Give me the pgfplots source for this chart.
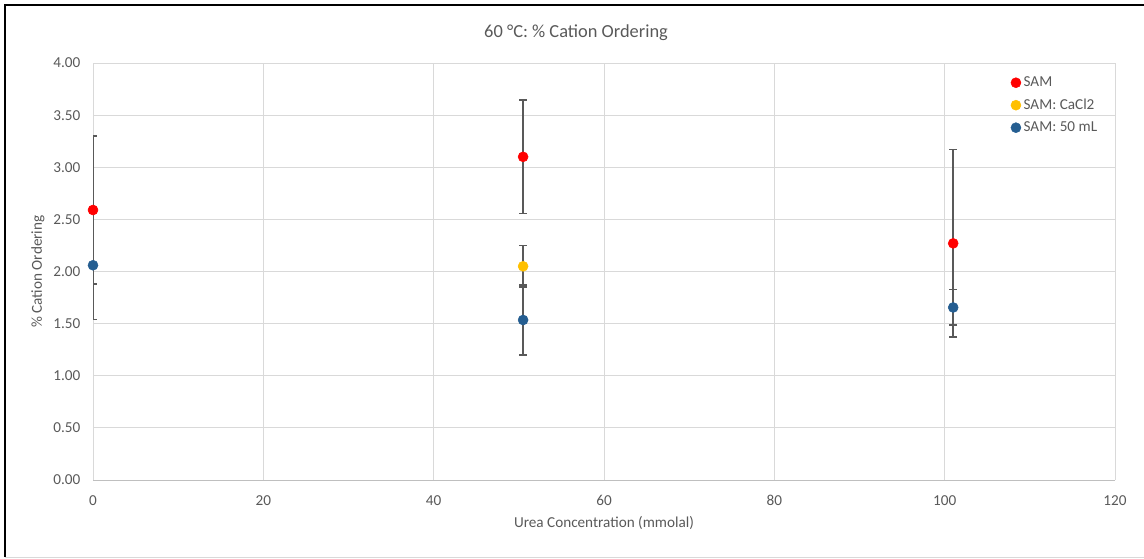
\documentclass[border=0pt]{standalone}
\usepackage{pgfplots}
\pgfplotsset{compat=1.18}
\usepackage{fontspec}
\setmainfont{Carlito}

\definecolor{txtgray}{HTML}{595959}
\definecolor{gridgray}{HTML}{D9D9D9}
\definecolor{axisgray}{HTML}{BFBFBF}
\definecolor{errgray}{HTML}{595959}
\definecolor{samred}{HTML}{FF0000}
\definecolor{samgold}{HTML}{FFC000}
\definecolor{samblue}{HTML}{255E91}

\begin{document}
\begin{tikzpicture}
% canvas and outer frame
\path[use as bounding box] (0,0) rectangle (858pt,418.5pt);
\draw[black, line width=1.5pt] (3.75pt,0.75pt) -- (3.75pt,414.75pt) -- (858pt,414.75pt);
\draw[gridgray, line width=0.75pt] (3.75pt,0.6pt) -- (858pt,0.6pt);

\node[text=txtgray, font=\fontsize{13.8}{16}\selectfont] at (432pt,394pt)
  {60 °C: \% Cation Ordering};

\begin{axis}[
  at={(69.75pt,58.5pt)}, anchor=south west,
  scale only axis, width=766.5pt, height=312.75pt,
  xmin=0, xmax=120, ymin=0, ymax=4,
  xtick={0,20,40,60,80,100,120},
  ytick={0,0.5,1,1.5,2,2.5,3,3.5,4},
  /pgf/number format/assume math mode=true,
  yticklabel style={/pgf/number format/fixed, /pgf/number format/fixed zerofill,
    /pgf/number format/precision=2, xshift=-6pt},
  xticklabel style={/pgf/number format/fixed, /pgf/number format/precision=0,
    yshift=-8pt},
  tick label style={text=txtgray, font=\fontsize{11.4}{13}\selectfont},
  major tick length=0pt,
  grid=major,
  major grid style={gridgray, line width=0.75pt},
  axis x line*=bottom, axis y line*=left,
  x axis line style={axisgray, line width=0.75pt, -},
  y axis line style={gridgray, line width=0.75pt, -},
  xlabel={Urea Concentration (mmolal)},
  ylabel={\% Cation Ordering},
  label style={text=txtgray, font=\fontsize{11.4}{13}\selectfont},
  xlabel style={at={(axis description cs:0.5,-0.1031)}, anchor=center},
  ylabel style={at={(axis description cs:-0.0538,0.5)}, anchor=center},
  legend style={at={(rel axis cs:0.894,0.981)}, anchor=north west,
    draw=none, fill=none, text=txtgray,
    font=\fontsize{11.4}{13}\selectfont, row sep=3.3pt,
    nodes={inner xsep=2pt, inner ysep=2.2pt}},
  legend cell align=left,
  legend image code/.code={\draw[#1] plot coordinates {(0pt,0pt)};},
  every axis plot/.append style={only marks, mark=*, mark size=3.75pt,
    error bars/y dir=both, error bars/y explicit,
    error bars/error mark=|,
    error bars/error bar style={errgray, line width=1.1pt},
    error bars/error mark options={errgray, line width=1.1pt, mark size=2.9pt}},
]
% SAM
\addplot[mark options={draw=samred, fill=samred}]
  table[x=x, y=y, y error=e] {
  x     y     e
  0     2.59  0.71
  50.5  3.10  0.545
  101   2.27  0.90
};
\addlegendentry{SAM}
% SAM: CaCl2
\addplot[mark options={draw=samgold, fill=samgold}]
  table[x=x, y=y, y error=e] {
  x     y     e
  50.5  2.05  0.20
};
\addlegendentry{SAM: CaCl2}
% SAM: 50 mL
\addplot[mark options={draw=samblue, fill=samblue}]
  table[x=x, y=y, y error=e] {
  x     y     e
  0     2.06  0.52
  50.5  1.535 0.335
  101   1.655 0.17
};
\addlegendentry{SAM: 50 mL}
\end{axis}
\end{tikzpicture}
\end{document}
